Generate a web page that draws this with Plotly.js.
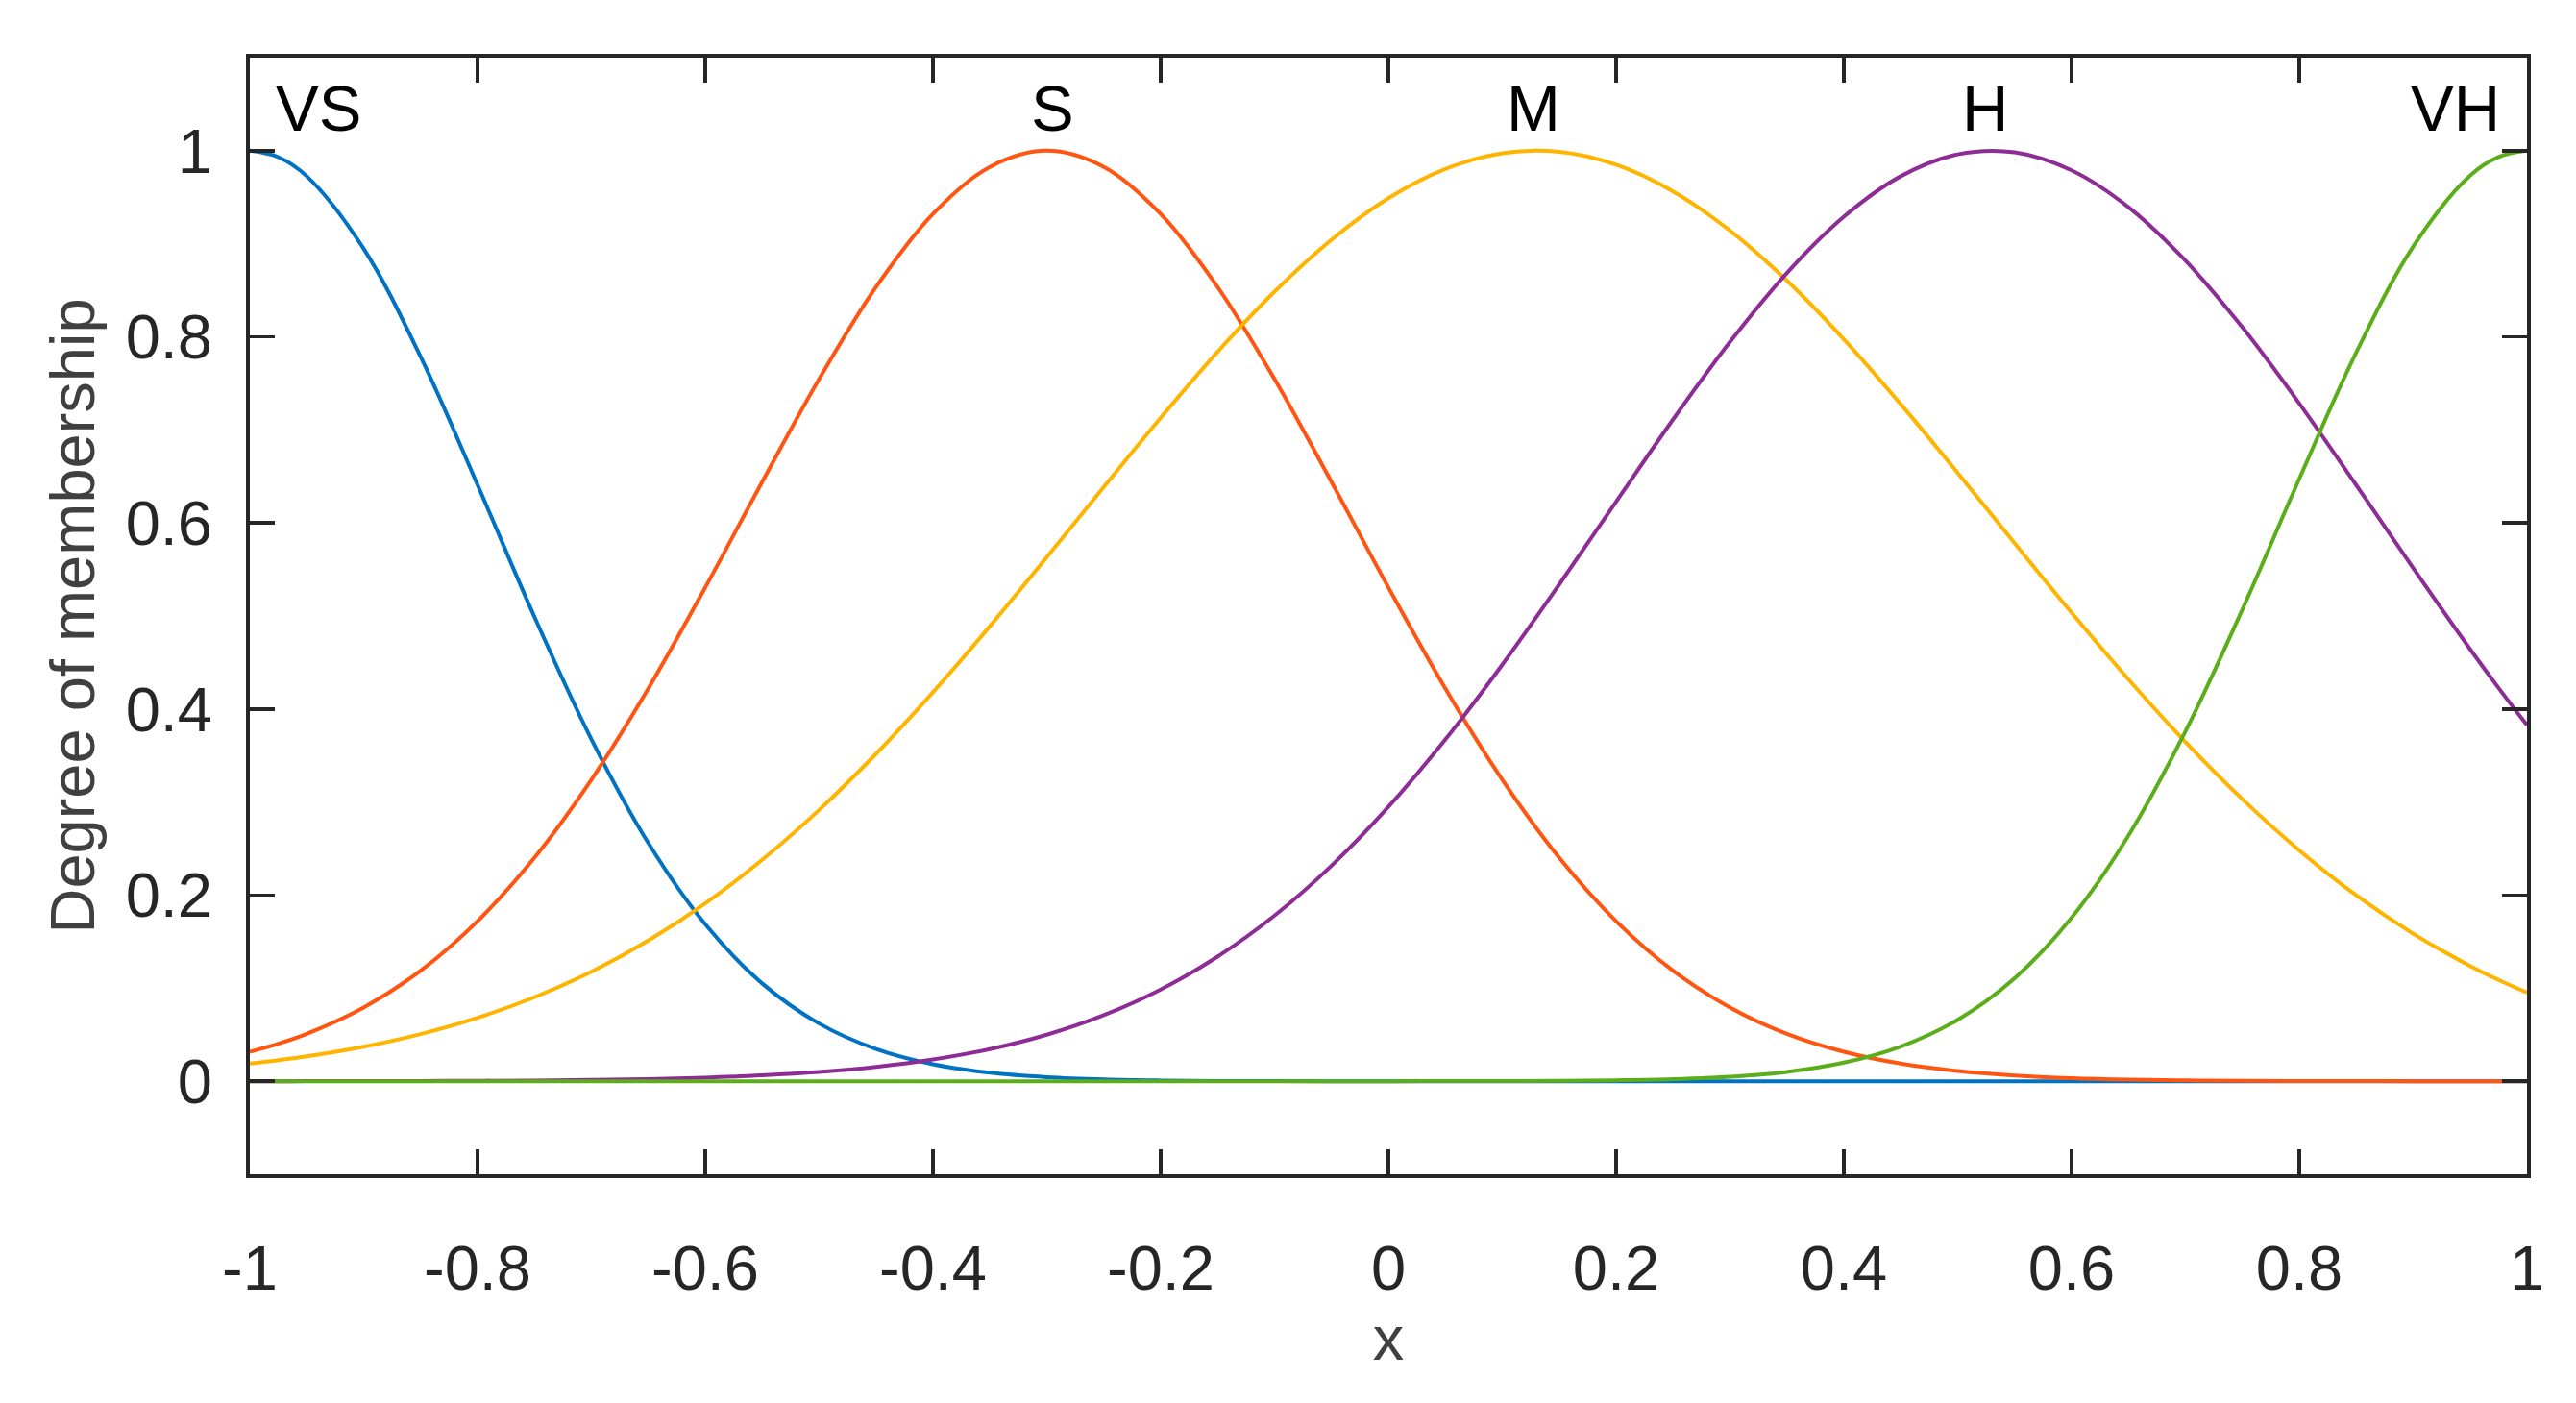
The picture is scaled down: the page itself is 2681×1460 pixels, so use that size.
<!DOCTYPE html>
<html>
<head>
<meta charset="utf-8">
<script src="https://cdn.plot.ly/plotly-3.0.1.min.js"></script>
<style>
  html, body { margin: 0; padding: 0; background: #ffffff; }
  #graph { width: 2681px; height: 1460px; }
</style>
</head>
<body>
<div id="graph"></div>
<script>
// x positions (step 0.05, plus extra points near both ends)
var xVals = [-1, -0.975, -0.95, -0.9, -0.85, -0.8, -0.75, -0.7, -0.65, -0.6, -0.55, -0.5,
             -0.45, -0.4, -0.35, -0.3, -0.25, -0.2, -0.15, -0.1, -0.05, 0,
             0.05, 0.1, 0.15, 0.2, 0.25, 0.3, 0.35, 0.4, 0.45, 0.5,
             0.55, 0.6, 0.65, 0.7, 0.75, 0.8, 0.85, 0.9, 0.95, 0.975, 1];

// membership values for each set
var vsVals = [1, 0.9931, 0.9726, 0.8947, 0.7786, 0.6409, 0.4990, 0.3675, 0.2560, 0.1687, 0.1051, 0.0620,
              0.0346, 0.0182, 0.0091, 0.0043, 0.0019, 0.0008, 0.0003, 0.0001, 0, 0,
              0, 0, 0, 0, 0, 0, 0, 0, 0, 0,
              0, 0, 0, 0, 0, 0, 0, 0, 0, 0, 0];
var sVals = [0.0317, 0.0404, 0.0510, 0.0793, 0.1188, 0.1720, 0.2402, 0.3241, 0.4220, 0.5306, 0.6440, 0.7545,
             0.8535, 0.9320, 0.9826, 1, 0.9826, 0.9320, 0.8535, 0.7545, 0.6440, 0.5306,
             0.4220, 0.3241, 0.2402, 0.1720, 0.1188, 0.0793, 0.0510, 0.0317, 0.0190, 0.0110,
             0.0062, 0.0033, 0.0017, 0.0009, 0.0004, 0.0002, 0.0001, 0, 0, 0, 0];
var mVals = [0.0190, 0.0226, 0.0267, 0.0371, 0.0507, 0.0682, 0.0903, 0.1177, 0.1512, 0.1911, 0.2379, 0.2915,
             0.3518, 0.4180, 0.4890, 0.5632, 0.6386, 0.7130, 0.7839, 0.8485, 0.9043, 0.9489,
             0.9803, 0.9972, 0.9988, 0.9849, 0.9563, 0.9141, 0.8604, 0.7974, 0.7276, 0.6537,
             0.5782, 0.5036, 0.4318, 0.3646, 0.3031, 0.2481, 0.1999, 0.1586, 0.1239, 0.1089, 0.0953];
var hVals = [0, 0, 0.0001, 0.0001, 0.0003, 0.0005, 0.0008, 0.0014, 0.0023, 0.0039, 0.0063, 0.0099,
             0.0154, 0.0233, 0.0345, 0.0500, 0.0710, 0.0986, 0.1339, 0.1780, 0.2316, 0.2948,
             0.3672, 0.4476, 0.5338, 0.6228, 0.7112, 0.7945, 0.8686, 0.9291, 0.9726, 0.9961,
             0.9983, 0.9789, 0.9393, 0.8819, 0.8102, 0.7284, 0.6407, 0.5515, 0.4644, 0.4227, 0.3827];
var vhVals = [0, 0, 0, 0, 0, 0, 0, 0, 0, 0, 0, 0,
              0, 0, 0, 0, 0, 0, 0, 0, 0, 0,
              0.0001, 0.0002, 0.0004, 0.0010, 0.0022, 0.0049, 0.0101, 0.0200, 0.0373, 0.0660,
              0.1107, 0.1757, 0.2641, 0.3760, 0.5070, 0.6474, 0.7830, 0.8970, 0.9732, 0.9932, 1];

// set names and where their labels sit
var setNames = ['VS', 'S', 'M', 'H', 'VH'];
var labelX = [-0.94, -0.295, 0.127, 0.524, 0.937];
var labelY = 1.046;

var setVals = [vsVals, sVals, mVals, hVals, vhVals];
var setColors = ['#0072C4', '#FF5510', '#FFB400', '#8E2C95', '#5BAE1A'];

var data = [];
for (var i = 0; i < setNames.length; i += 1) {
    data.push({
        x: xVals,
        y: setVals[i],
        type: 'scatter',
        mode: 'lines',
        name: setNames[i],
        line: { color: setColors[i], width: 4, shape: 'spline', smoothing: 1 },
        hoverinfo: 'x+y+name'
    });
}

var annotations = [];
for (i = 0; i < setNames.length; i += 1) {
    annotations.push({
        x: labelX[i], y: labelY, xref: 'x', yref: 'y',
        text: setNames[i], showarrow: false,
        xanchor: 'center', yanchor: 'middle',
        font: { family: 'Liberation Sans, Arial, sans-serif', size: 67, color: '#000000' }
    });
}

var axisCommon = {
    showline: true,
    linecolor: '#262626',
    linewidth: 4,
    mirror: 'ticks',
    ticks: 'inside',
    ticklen: 26,
    tickwidth: 3.5,
    tickcolor: '#262626',
    showgrid: false,
    zeroline: false,
    tickfont: { family: 'Liberation Sans, Arial, sans-serif', size: 65, color: '#262626' }
};

var layout = {
    width: 2681,
    height: 1460,
    margin: { l: 260, r: 51, t: 60, b: 238 },
    paper_bgcolor: '#ffffff',
    plot_bgcolor: '#ffffff',
    showlegend: false,
    annotations: annotations,
    xaxis: Object.assign({}, axisCommon, {
        range: [-1, 1],
        tickvals: [-1, -0.8, -0.6, -0.4, -0.2, 0, 0.2, 0.4, 0.6, 0.8, 1],
        ticktext: ['-1', '-0.8', '-0.6', '-0.4', '-0.2', '0', '0.2', '0.4', '0.6', '0.8', '1'],
        ticklabelstandoff: 38,
        title: { text: 'x', standoff: 14,
                 font: { family: 'Liberation Sans, Arial, sans-serif', size: 65, color: '#404040' } }
    }),
    yaxis: Object.assign({}, axisCommon, {
        range: [-0.1, 1.1],
        tickvals: [0, 0.2, 0.4, 0.6, 0.8, 1],
        ticktext: ['0', '0.2', '0.4', '0.6', '0.8', '1'],
        ticklabelstandoff: 22,
        title: { text: 'Degree of membership', standoff: 12,
                 font: { family: 'Liberation Sans, Arial, sans-serif', size: 65, color: '#404040' } }
    })
};

Plotly.newPlot('graph', data, layout, { displayModeBar: false, staticPlot: true });
</script>
</body>
</html>
